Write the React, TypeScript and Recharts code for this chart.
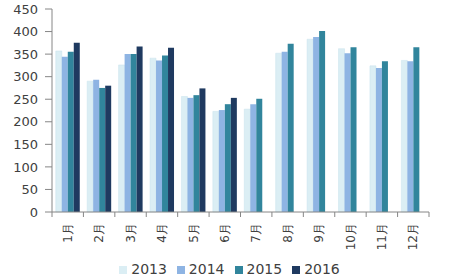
import React from 'react';
import { BarChart, Bar, XAxis, YAxis, Legend } from 'recharts';

const months = ['1月', '2月', '3月', '4月', '5月', '6月', '7月', '8月', '9月', '10月', '11月', '12月'];
const s2013 = [357, 290, 326, 341, 256, 223, 228, 352, 383, 362, 324, 336];
const s2014 = [344, 293, 350, 336, 253, 226, 239, 355, 388, 352, 319, 334];
const s2015 = [355, 275, 350, 347, 259, 239, 251, 373, 401, 365, 334, 365];
const s2016: (number | null)[] = [375, 280, 367, 364, 274, 253, null, null, null, null, null, null];
const yTicks = [0, 50, 100, 150, 200, 250, 300, 350, 400, 450];

const data = months.map((m, i) => ({
  month: m,
  y2013: s2013[i],
  y2014: s2014[i],
  y2015: s2015[i],
  y2016: s2016[i],
}));

const FONT = '"DejaVu Sans", Verdana, sans-serif';
const TEXT = '#404040';
const AXIS = '#868686';

const MonthTick = (props: any) => {
  const { x, y, payload, index, width } = props;
  const half = (width || 0) / months.length / 2;
  const axisY = y - 8;
  return (
    <g>
      <line x1={x - half} x2={x - half} y1={axisY} y2={axisY + 5} stroke={AXIS} />
      {index === months.length - 1 ? (
        <line x1={x + half} x2={x + half} y1={axisY} y2={axisY + 5} stroke={AXIS} />
      ) : null}
      <g transform={`translate(${x},${y + 3}) rotate(-90)`}>
        <text x={0} y={0} dy="0.35em" textAnchor="end" fill={TEXT} fontSize={12} fontFamily={FONT}>
          {payload.value}
        </text>
      </g>
    </g>
  );
};

export default function App() {
  return (
    <div style={{ position: 'absolute', left: 0, top: 0, background: '#fff' }}>
      <BarChart
        width={466}
        height={280}
        data={data}
        margin={{ top: 9, right: 37, left: 0, bottom: 0 }}
        barCategoryGap="12%"
        barGap={0}
      >
        <XAxis
          dataKey="month"
          interval={0}
          axisLine={{ stroke: AXIS }}
          tickLine={false}
          tick={<MonthTick />}
          height={44}
        />
        <YAxis
          width={52}
          domain={[0, 450]}
          ticks={yTicks}
          interval={0}
          axisLine={{ stroke: AXIS }}
          tickLine={{ stroke: AXIS }}
          tickSize={7}
          tickMargin={7}
          tick={{ fill: TEXT, fontSize: 13, fontFamily: FONT }}
        />
        <Legend
          verticalAlign="bottom"
          align="center"
          height={24}
          iconType="square"
          iconSize={8}
          wrapperStyle={{ top: 261, left: 20, fontFamily: FONT, fontSize: 14 }}
          formatter={(v: string) => <span style={{ color: TEXT }}>{v}</span>}
        />
        <Bar dataKey="y2013" name="2013" fill="#DBEEF4" stroke="#C9E3EC" strokeWidth={0.5} isAnimationActive={false} />
        <Bar dataKey="y2014" name="2014" fill="#8EB4E3" isAnimationActive={false} />
        <Bar dataKey="y2015" name="2015" fill="#31859C" isAnimationActive={false} />
        <Bar dataKey="y2016" name="2016" fill="#1F3A60" isAnimationActive={false} />
      </BarChart>
    </div>
  );
}
